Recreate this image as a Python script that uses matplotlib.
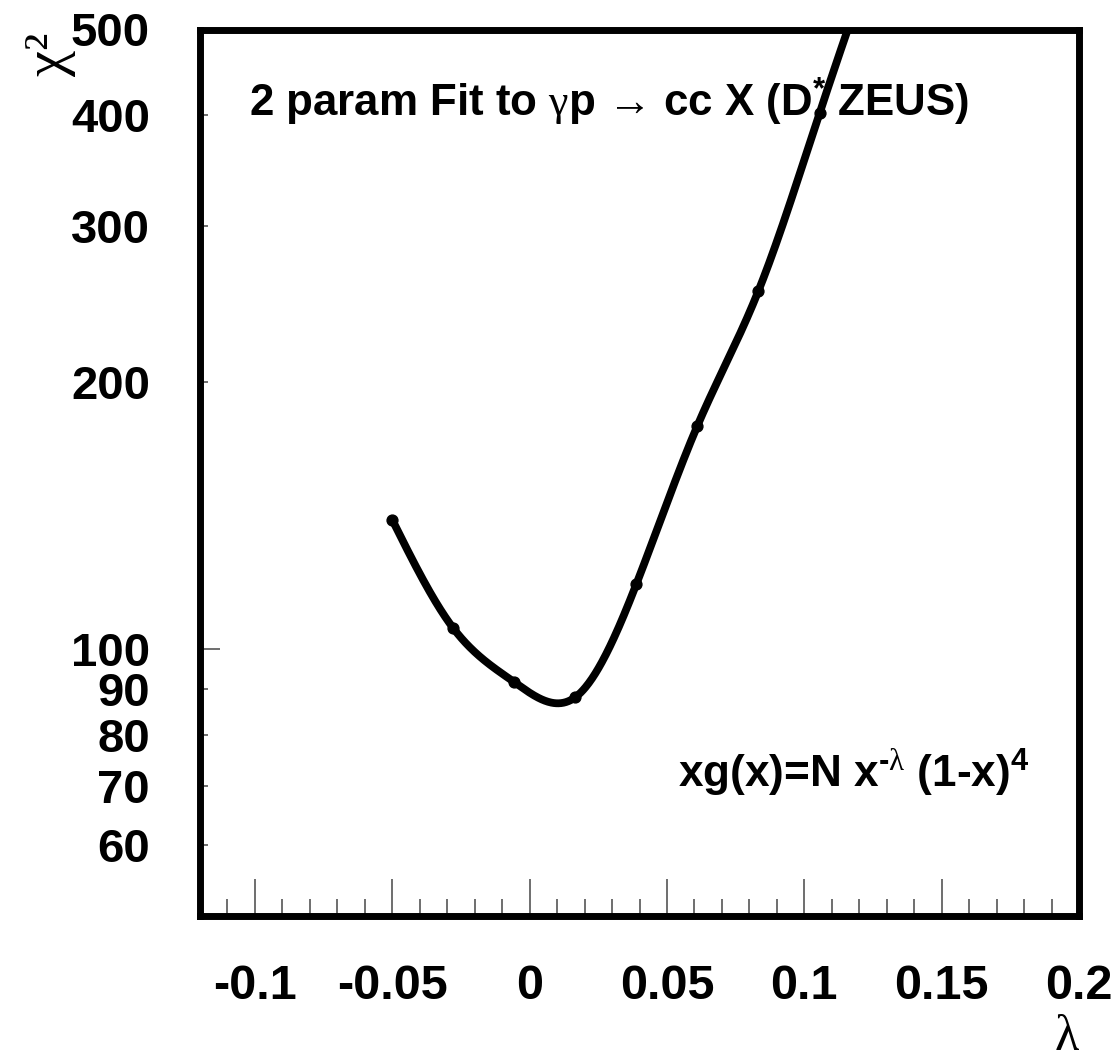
import numpy as np
import matplotlib
matplotlib.use("Agg")
import matplotlib.pyplot as plt
from matplotlib.ticker import FixedLocator, FixedFormatter, NullFormatter

# chi^2 scan of the gluon exponent lambda
lam = [-0.05, -0.0278, -0.0056, 0.0167, 0.0389, 0.0611, 0.0833, 0.1056, 0.1278]
chi2 = [139.8, 105.5, 91.7, 88.2, 118.4, 178.6, 253.5, 402.7, 640.0]

x_major = [-0.1, -0.05, 0.0, 0.05, 0.1, 0.15, 0.2]
x_labels = ["-0.1", "-0.05", "0", "0.05", "0.1", "0.15", "0.2"]
y_major = [100]
y_minor = [60, 70, 80, 90, 200, 300, 400, 500]

plt.rcParams["mathtext.fontset"] = "custom"
plt.rcParams["mathtext.rm"] = "Liberation Sans:bold"
plt.rcParams["mathtext.bf"] = "Liberation Sans:bold"
plt.rcParams["mathtext.it"] = "Liberation Serif"
plt.rcParams["mathtext.default"] = "rm"

SANS = ["Liberation Sans", "DejaVu Sans"]
SERIF = ["Liberation Serif", "DejaVu Serif"]


def natural_spline(x, y, xs):
    """Natural cubic spline through (x, y), evaluated at xs."""
    x = np.asarray(x, float)
    y = np.asarray(y, float)
    n = len(x)
    h = np.diff(x)
    A = np.zeros((n, n))
    r = np.zeros(n)
    A[0, 0] = A[-1, -1] = 1.0
    for i in range(1, n - 1):
        A[i, i - 1] = h[i - 1]
        A[i, i] = 2 * (h[i - 1] + h[i])
        A[i, i + 1] = h[i]
        r[i] = 3 * ((y[i + 1] - y[i]) / h[i] - (y[i] - y[i - 1]) / h[i - 1])
    c = np.linalg.solve(A, r)
    b = (y[1:] - y[:-1]) / h - h * (2 * c[:-1] + c[1:]) / 3
    d = (c[1:] - c[:-1]) / (3 * h)
    idx = np.clip(np.searchsorted(x, xs) - 1, 0, n - 2)
    dx = xs - x[idx]
    return y[idx] + b[idx] * dx + c[idx] * dx ** 2 + d[idx] * dx ** 3


W, H = 1119, 1061
fig = plt.figure(figsize=(W / 100, H / 100), dpi=100)
ax = fig.add_axes([200 / W, 1 - 915.5 / H, 879 / W, 886 / H])

# smooth curve drawn in log space, dots at the scan points
xs = np.linspace(lam[0], lam[-1], 600)
ys = 10 ** natural_spline(lam, np.log10(chi2), xs)
ax.plot(xs, ys, color="black", lw=5.6, solid_capstyle="round", zorder=5)
ax.plot(lam, chi2, "o", color="black", ms=7.8, zorder=6)

ax.set_yscale("log")
ax.set_xlim(-0.12, 0.2)
ax.set_ylim(50, 500)

for s in ax.spines.values():
    s.set_linewidth(5)

ax.xaxis.set_major_locator(FixedLocator(x_major))
ax.xaxis.set_major_formatter(FixedFormatter(x_labels))
ax.xaxis.set_minor_locator(FixedLocator(np.round(np.arange(-0.11, 0.2, 0.01), 3)))
ax.xaxis.set_minor_formatter(NullFormatter())
ax.yaxis.set_major_locator(FixedLocator(y_major))
ax.yaxis.set_major_formatter(FixedFormatter([str(v) for v in y_major]))
ax.yaxis.set_minor_locator(FixedLocator(y_minor))
ax.yaxis.set_minor_formatter(FixedFormatter([str(v) for v in y_minor]))

ax.tick_params(axis="x", which="both", direction="in", width=1.2,
               color="#555555", pad=35, labelsize=35, top=False)
ax.tick_params(axis="x", which="major", length=26.5)
ax.tick_params(axis="x", which="minor", length=12)
ax.tick_params(axis="y", which="both", direction="in", width=1.2,
               color="#555555", pad=36, labelsize=34, right=False)
ax.tick_params(axis="y", which="major", length=14.5)
ax.tick_params(axis="y", which="minor", length=6)
for lbl in (ax.get_xticklabels() + ax.get_yticklabels()
            + ax.get_yticklabels(minor=True)):
    lbl.set_fontfamily(SANS)
    lbl.set_fontweight("bold")

# axis titles
fig.text(50 / W, 1 - 76 / H, "χ²", rotation=90, family=SERIF,
         fontsize=42, ha="center", va="bottom")
fig.text(1067 / W, 1 - 1050 / H, "λ", family=SERIF,
         fontsize=36, ha="center", va="baseline")

# annotations inside the frame
fig.text(249 / W, 1 - 117 / H,
         "2 param Fit to $\\mathit{\\gamma}$p → cc X (D$^{*}$ ZEUS)",
         family=SANS, weight="bold",
         fontsize=31.6, ha="left", va="baseline", zorder=2)
fig.text(678 / W, 1 - 788 / H,
         "xg(x)=N x$^{\\text{-}\\mathit{\\lambda}}$ (1-x)$^{4}$",
         family=SANS, weight="bold",
         fontsize=31.8, ha="left", va="baseline")

fig.savefig("out.png", dpi=100)
